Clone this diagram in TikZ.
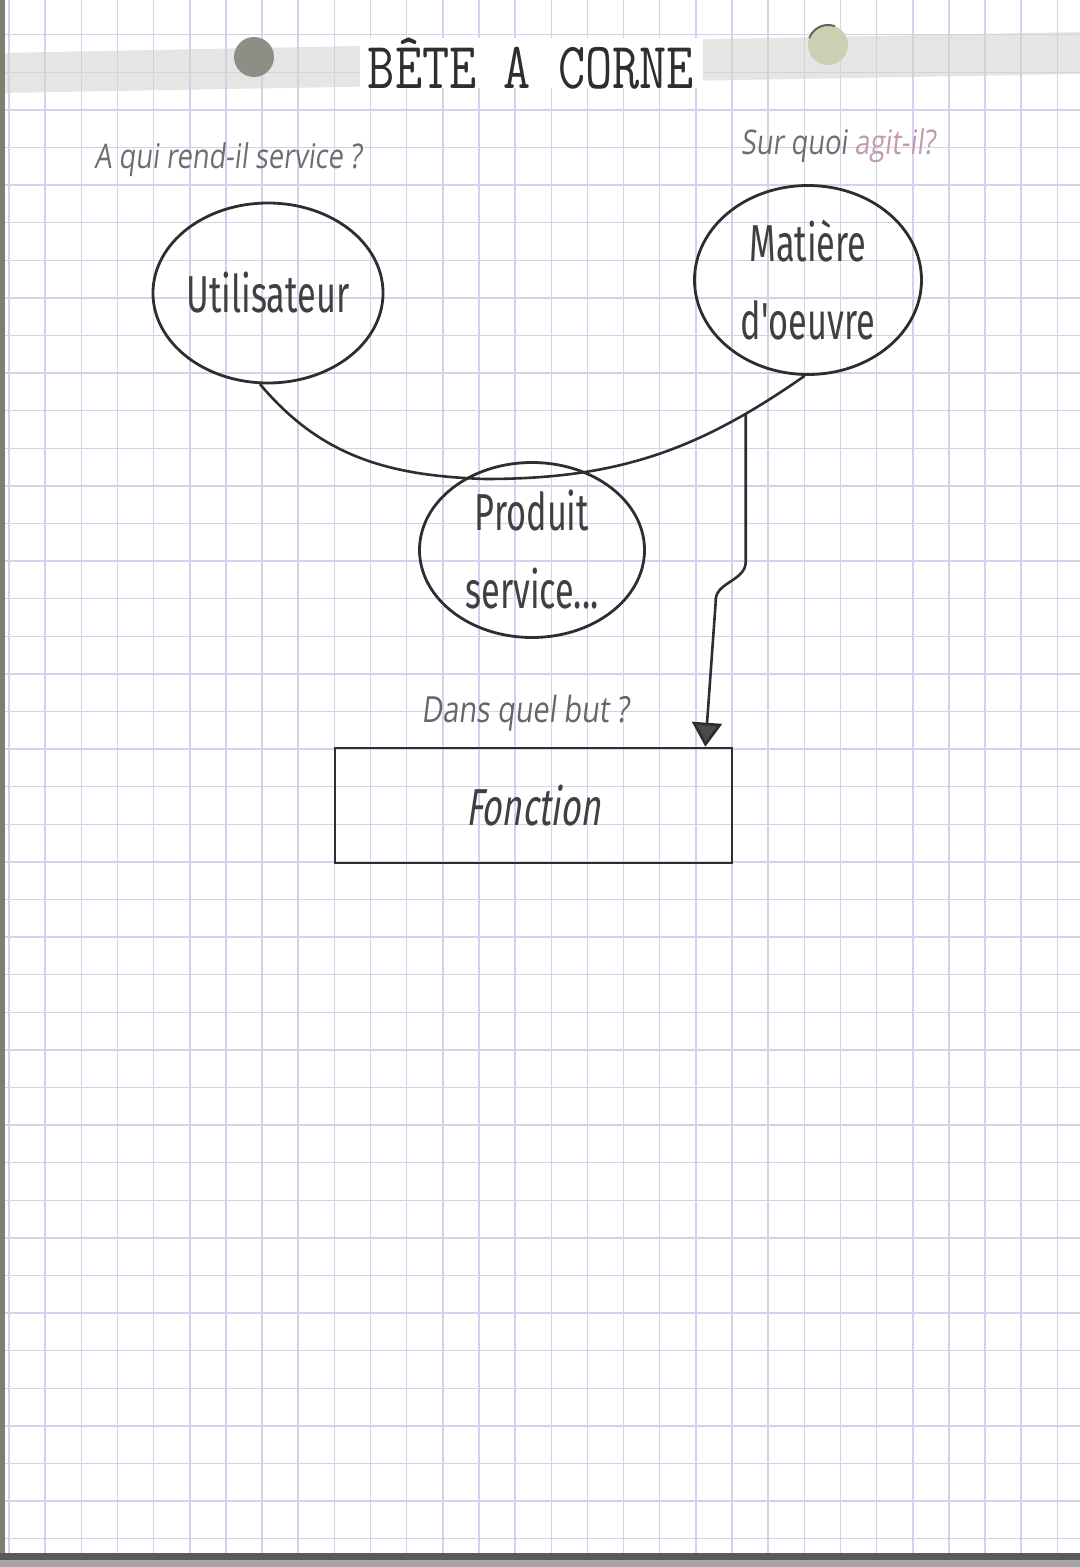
\documentclass[tikz,border=0pt]{standalone}
\usepackage{fontspec}
\usepackage{graphicx}
\usetikzlibrary{arrows.meta,shapes.geometric,calc}
\newfontfamily\handfont{Fira Sans}[FakeStretch=0.66]
\newfontfamily\qfont{Open Sans}[FakeStretch=0.8,FakeSlant=0.12]
\definecolor{gridc}{HTML}{D3D1EC}
\definecolor{bandc}{HTML}{D4D4D2}
\definecolor{holea}{HTML}{8C8F86}
\definecolor{holeb}{HTML}{CDCFB4}
\definecolor{inkc}{HTML}{2E2E2E}
\definecolor{textc}{HTML}{404040}
\definecolor{qgray}{HTML}{6E6E6E}
\definecolor{qpink}{HTML}{C49AAB}
\definecolor{edgec}{HTML}{7D8070}
\definecolor{botc}{HTML}{5A5A5A}
\definecolor{arrowc}{HTML}{4A4A4A}
\begin{document}
\begin{tikzpicture}[x=0.5pt,y=-0.5pt,
  gridline/.style={gridc,line width=0.75pt},
  ell/.style={ellipse,draw=inkc,line width=1.4pt,inner sep=0pt,text=textc,
    font=\handfont\fontsize{26}{39}\selectfont,align=center},
  boxnode/.style={rectangle,draw=inkc,line width=1.3pt,inner sep=0pt,text=textc},
  conn/.style={inkc,line width=1.3pt},
  qlabel/.style={text=qgray,font=\qfont\fontsize{17}{19}\selectfont,inner sep=0pt}]
\useasboundingbox (0,0) rectangle (1080,1567);
\fill[white] (0,0) rectangle (1080,1567);
% grid
\foreach \i in {0,...,29} {
  \pgfmathsetmacro{\gx}{9+36.15*\i}
  \draw[gridline] (\gx,0) -- (\gx,1553);
}
\foreach \j in {-1,...,41} {
  \pgfmathsetmacro{\gy}{34.7+37.6*\j}
  \draw[gridline] (0,\gy) -- (1080,\gy);
}
% top band and title label
\fill[bandc,opacity=0.6] (0,53) -- (1080,32) -- (1080,74) -- (0,93) -- cycle;
\fill[white] (360,38) rectangle (703,88);
\node[inner sep=0pt,text=inkc] (title) at (531,64)
  {\scalebox{0.8}[1]{\fontsize{33}{33}\selectfont\ttfamily BÊTE A CORNE}};
% punched holes
\fill[holea] (254,57) circle[radius=10pt];
\fill[holeb] (828,45) circle[radius=10pt];
\draw[holea!70!black,line width=1pt] (828,45) ++(160:10pt) arc[start angle=160,end angle=70,radius=10pt];
% edges of the sheet
\fill[edgec] (0,0) rectangle (5,1567);
\fill[botc] (0,1553) rectangle (1080,1560);
\fill[botc!55] (0,1560) rectangle (1080,1567);
% questions
\node[qlabel] (q1) at (228,160) {A qui rend-il service ?};
\node[qlabel] (q2) at (838,146) {Sur quoi \textcolor{qpink}{agit-il?}};
\node[qlabel,text=textc!80,font=\qfont\fontsize{18}{20}\selectfont] (q3) at (525,713) {Dans quel but ?};
% nodes
\node[ell,minimum width=110pt,minimum height=90pt] (utl) at (268,293) {Utilisateur};
\node[ell,minimum width=113.5pt,minimum height=94.5pt] (mat) at (808,280) {Matière\\d'oeuvre};
\node[ell,minimum width=112.5pt,minimum height=87.5pt] (prod) at (532,550) {Produit\\service...};
\node[boxnode,minimum width=198.5pt,minimum height=57.5pt,
  font=\handfont\fontsize{26}{30}\selectfont\addfontfeature{FakeSlant=0.15}] (fonc) at (533.5,805.5) {Fonction};
% connecting curve
\coordinate (low) at (485,479);
\draw[conn] (utl.-95) to[out=-50,in=178] (low)
  to[out=0,in=-145] coordinate[pos=0.81] (branch) (mat.-92);
% arrow to Fonction
\draw[conn,-{Triangle[width=15pt,length=12pt,fill=arrowc]}]
  (branch) -- ++(0,148) to[out=-90,in=95] ++(-30,40)
  -- ($(fonc.north west)!0.93!(fonc.north east)$);
\end{tikzpicture}
\end{document}
